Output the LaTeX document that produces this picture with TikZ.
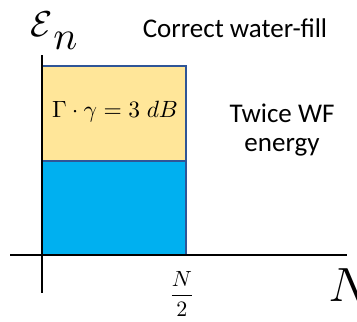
\documentclass[tikz,border=0pt]{standalone}
\usepackage{amsmath}
\usepackage{fontspec}
\setmainfont{Carlito}
\definecolor{wfyellow}{HTML}{FFE699}
\definecolor{wfblue}{HTML}{00B0F0}
\definecolor{wfedge}{HTML}{2F5597}
\tikzset{
  axisline/.style={line width=1.6pt, black},
  region/.style={draw=wfedge, line width=1.2pt},
  lbl/.style={inner sep=0pt, align=center, font=\fontsize{27}{29}\selectfont},
  mathlbl/.style={inner sep=0pt, font=\fontsize{10}{12}\selectfont},
}
\begin{document}
\begin{tikzpicture}[x=1pt, y=-1pt]
\useasboundingbox (0,0) rectangle (357,322);
\fill[white] (0,0) rectangle (357,322);
\coordinate (o) at (42,255);
\coordinate (ytop) at (42,55);
\coordinate (ybot) at (42,293);
\coordinate (xl) at (10,255);
\coordinate (xr) at (347,255);
\draw[region, fill=wfblue] (42,161) rectangle (186,255);
\draw[region, fill=wfyellow] (42,66) rectangle (186,161);
\draw[axisline] (ytop) -- (ybot);
\draw[axisline] (xl) -- (xr);
\node[mathlbl, scale=3.6, anchor=base west] (en) at (30,36) {$\mathcal{E}$};
\node[mathlbl, scale=4, anchor=base west] (sub) at ([shift={(-1,13)}]en.base east) {$n$};
\node[lbl] (cwf) at (235,28) {Correct water-fill};
\node[lbl] (twice) at (282,130) {Twice WF\\energy};
\node[mathlbl, scale=2.35] (gg) at (115,112) {$\Gamma\cdot\gamma = 3\;dB$};
\node[mathlbl, scale=2.2] (half) at (182,294) {$\dfrac{N}{2}$};
\node[mathlbl, scale=4.8, anchor=west] (nn) at (328,285) {$N$};
\end{tikzpicture}
\end{document}
